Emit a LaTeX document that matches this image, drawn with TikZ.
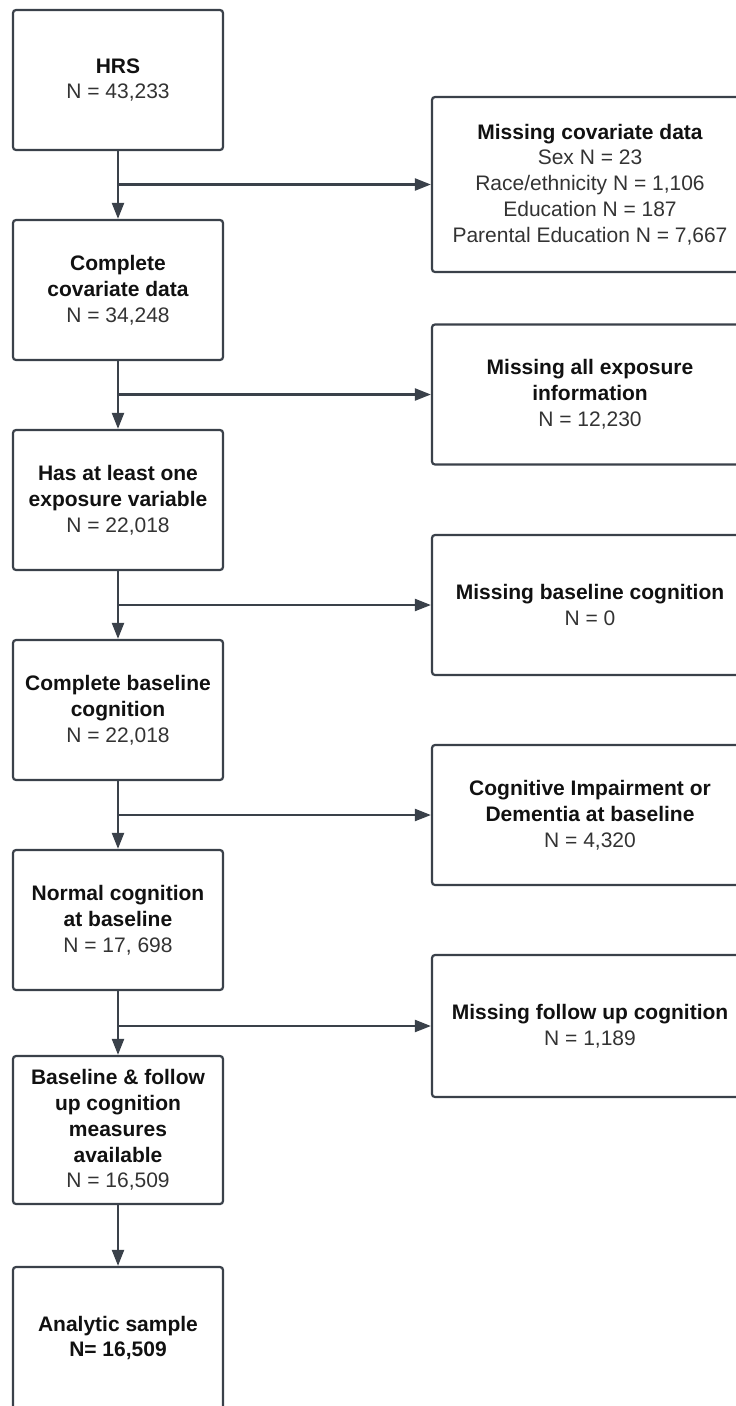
\documentclass[tikz,border=0pt]{standalone}
\usepackage{fontspec}
\setmainfont{Liberation Sans}
\usetikzlibrary{arrows.meta}
\definecolor{linec}{HTML}{3A414A}
\definecolor{txtc}{HTML}{333333}
\definecolor{hdc}{HTML}{111111}
\newcommand{\hb}[1]{{\color{hdc}\bfseries #1}}
\begin{document}
\begin{tikzpicture}[x=1pt,y=-1pt,
  box/.style={draw=linec, line width=2.2pt, rounded corners=3pt, align=center,
    inner sep=0pt, font=\fontsize{21pt}{25.8pt}\selectfont, text=txtc},
  lbox/.style={box, minimum width=210pt},
  rbox/.style={box, minimum width=316pt},
  arr/.style={draw=linec, line width=2.2pt, -{Triangle[length=16pt,width=12pt]}}]
\useasboundingbox (0,0) rectangle (736,1406);
\clip (0,0) rectangle (736,1406);

% left column
\node[lbox, minimum height=140pt] (L1) at (118,80) {\hb{HRS}\\N = 43,233};
\node[lbox, minimum height=140pt] (L2) at (118,290) {\hb{Complete}\\\hb{covariate data}\\N = 34,248};
\node[lbox, minimum height=140pt] (L3) at (118,500) {\hb{Has at least one}\\\hb{exposure variable}\\N = 22,018};
\node[lbox, minimum height=140pt] (L4) at (118,710) {\hb{Complete baseline}\\\hb{cognition}\\N = 22,018};
\node[lbox, minimum height=140pt] (L5) at (118,920) {\hb{Normal cognition}\\\hb{at baseline}\\N = 17, 698};
\node[lbox, minimum height=148pt] (L6) at (118,1130) {\hb{Baseline \& follow}\\\hb{up cognition}\\\hb{measures}\\\hb{available}\\N = 16,509};
\node[lbox, minimum height=142pt] (L7) at (118,1338) {\hb{Analytic sample}\\\hb{N= 16,509}};

% right column
\node[rbox, minimum height=175pt] (R1) at (590,184.5) {\hb{Missing covariate data}\\Sex N = 23\\Race/ethnicity N = 1,106\\Education N = 187\\Parental Education N = 7,667};
\node[rbox, minimum height=140pt] (R2) at (590,394.5) {\hb{Missing all exposure}\\\hb{information}\\N = 12,230};
\node[rbox, minimum height=140pt] (R3) at (590,605) {\hb{Missing baseline cognition}\\N = 0};
\node[rbox, minimum height=140pt] (R4) at (590,815) {\hb{Cognitive Impairment or}\\\hb{Dementia at baseline}\\N = 4,320};
\node[rbox, minimum height=142pt] (R5) at (590,1026) {\hb{Missing follow up cognition}\\N = 1,189};

% main flow
\draw[arr] (L1) -- (L2);
\draw[arr] (L2) -- (L3);
\draw[arr] (L3) -- (L4);
\draw[arr] (L4) -- (L5);
\draw[arr] (L5) -- (L6);
\draw[arr] (L6) -- (L7);

% exclusions
\coordinate (j1) at (L1.south |- R1.west);
\coordinate (j2) at (L2.south |- R2.west);
\coordinate (j3) at (L3.south |- R3.west);
\coordinate (j4) at (L4.south |- R4.west);
\coordinate (j5) at (L5.south |- R5.west);
\draw[arr] (j1) -- (R1.west);
\draw[arr] (j2) -- (R2.west);
\draw[arr] (j3) -- (R3.west);
\draw[arr] (j4) -- (R4.west);
\draw[arr] (j5) -- (R5.west);
\end{tikzpicture}
\end{document}
